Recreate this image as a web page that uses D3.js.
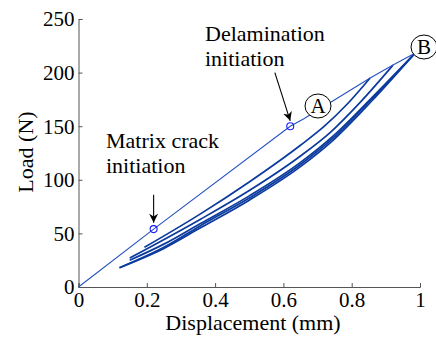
<!DOCTYPE html>
<html>
<head>
<meta charset="utf-8">
<script src="https://cdn.jsdelivr.net/npm/d3@7"></script>
<style>
  body { margin: 0; background: #fff; }
  svg { display: block; font-family: "Liberation Serif", "Times New Roman", serif; }
</style>
</head>
<body>
<div id="chart"></div>
<script>
// values (displacement mm, load N)
const xTicks = [0, 0.2, 0.4, 0.6, 0.8, 1];
const yTicks = [0, 50, 100, 150, 200, 250];

// first loading, thin line
const firstLoad = [[0, 0], [0.22, 54], [0.62, 150], [0.66, 157], [0.854, 195], [0.921, 207], [0.985, 218]];

// unload / reload cycles, thick lines
const cycle1 = [[0.193, 37], [0.356, 68], [0.5, 98], [0.649, 132], [0.72, 150], [0.785, 170], [0.854, 195]];
const cycle2 = [[0.15, 27], [0.356, 63], [0.5, 90], [0.649, 122], [0.74, 145], [0.824, 172], [0.921, 207]];
const cycle3 = [[0.15, 25], [0.25, 40], [0.356, 59], [0.5, 85], [0.649, 116], [0.746, 141], [0.86, 177], [0.985, 218]];
const cycle4 = [[0.12, 18], [0.25, 37], [0.356, 57], [0.5, 83], [0.649, 114], [0.746, 139], [0.86, 176], [0.985, 218]];
const cycle5 = [[0.12, 18], [0.25, 36], [0.356, 55], [0.5, 81], [0.649, 112], [0.746, 137], [0.86, 174], [0.985, 218]];
const cycles = [cycle1, cycle2, cycle3, cycle4, cycle5];

// initiation events
const events = [
  { name: 'crack', x: 0.22, y: 54 },
  { name: 'delam', x: 0.62, y: 150 }
];

const W = 436, H = 338;
const margin = { top: 19, right: 16, bottom: 51, left: 78.5 };

const svg = d3.select('#chart')
  .append('svg')
  .attr('width', W)
  .attr('height', H);

const xScale = d3.scaleLinear().domain([0, 1]).range([margin.left, W - margin.right]);
const yScale = d3.scaleLinear().domain([0, 250]).range([H - margin.bottom, margin.top]);

const axisColor = '#555';

// axes (ticks point inward, no box)
const xAxis = d3.axisBottom(xScale).tickValues(xTicks).tickSize(-4).tickPadding(8)
  .tickFormat(d => d === 0 || d === 1 ? d3.format('d')(d) : d3.format('.1f')(d));
const yAxis = d3.axisLeft(yScale).tickValues(yTicks).tickSize(-4).tickPadding(8);

const gx = svg.append('g')
  .attr('transform', `translate(0, ${yScale(0)})`)
  .call(xAxis);
const gy = svg.append('g')
  .attr('transform', `translate(${xScale(0)}, 0)`)
  .call(yAxis);

[gx, gy].forEach(g => {
  g.select('.domain').attr('stroke', axisColor).attr('stroke-width', 1);
  g.selectAll('.tick line').attr('stroke', axisColor);
  g.selectAll('.tick text')
    .attr('fill', '#000')
    .style('font-family', '"Liberation Serif", serif')
    .style('font-size', '21px');
});
gx.selectAll('.tick text').attr('dy', '0.55em');
gy.selectAll('.tick text').attr('x', -4).attr('dy', '0.33em');

// axis labels
svg.append('text')
  .attr('x', 253)
  .attr('y', 330)
  .attr('text-anchor', 'middle')
  .style('font-size', '22px')
  .text('Displacement (mm)');

svg.append('text')
  .attr('transform', 'translate(33, 152) rotate(-90)')
  .attr('text-anchor', 'middle')
  .style('font-size', '22px')
  .text('Load (N)');

const line = d3.line()
  .x(d => xScale(d[0]))
  .y(d => yScale(d[1]))
  .curve(d3.curveMonotoneX);

// cycles
svg.append('g')
  .selectAll('path')
  .data(cycles)
  .enter()
  .append('path')
  .attr('d', line)
  .attr('fill', 'none')
  .attr('stroke', '#0b3a9e')
  .attr('stroke-width', 1.7);

// first load
svg.append('path')
  .attr('d', d3.line().x(d => xScale(d[0])).y(d => yScale(d[1]))(firstLoad))
  .attr('fill', 'none')
  .attr('stroke', '#2452c0')
  .attr('stroke-width', 1.1);

// event markers
svg.selectAll('.ev')
  .data(events)
  .enter()
  .append('circle')
  .attr('class', 'ev')
  .attr('cx', d => xScale(d.x))
  .attr('cy', d => yScale(d.y))
  .attr('r', 3.5)
  .attr('fill', 'none')
  .attr('stroke', '#1a1aff')
  .attr('stroke-width', 1.1);

// arrows
const defs = svg.append('defs');
defs.append('marker')
  .attr('id', 'head')
  .attr('viewBox', '0 0 10 10')
  .attr('refX', 10)
  .attr('refY', 5)
  .attr('markerWidth', 9)
  .attr('markerHeight', 9)
  .attr('markerUnits', 'userSpaceOnUse')
  .attr('orient', 'auto')
  .append('path')
  .attr('d', 'M0,0 L10,5 L0,10 L3,5 Z')
  .attr('fill', '#000');

const arrows = [
  { x1: 0.22, y1: 86, x2: 0.22, y2: 60 },
  { x1: 0.575, y1: 200, x2: 0.62, y2: 155 }
];
svg.selectAll('.arrow')
  .data(arrows)
  .enter()
  .append('line')
  .attr('class', 'arrow')
  .attr('x1', d => xScale(d.x1))
  .attr('y1', d => yScale(d.y1))
  .attr('x2', d => xScale(d.x2))
  .attr('y2', d => yScale(d.y2))
  .attr('stroke', '#000')
  .attr('stroke-width', 1.1)
  .attr('marker-end', 'url(#head)');

// annotation texts
const notes = [
  { x: 106, y: 148, t: 'Matrix crack' },
  { x: 106, y: 173, t: 'initiation' },
  { x: 205, y: 41, t: 'Delamination' },
  { x: 205, y: 66, t: 'initiation' }
];
svg.selectAll('.note')
  .data(notes)
  .enter()
  .append('text')
  .attr('class', 'note')
  .attr('x', d => d.x)
  .attr('y', d => d.y)
  .style('font-size', '22px')
  .text(d => d.t);

// circled labels
const tags = [
  { x: 318, y: 106, t: 'A' },
  { x: 424, y: 47, t: 'B' }
];
const tg = svg.selectAll('.tag')
  .data(tags)
  .enter()
  .append('g')
  .attr('class', 'tag');
tg.append('ellipse')
  .attr('cx', d => d.x)
  .attr('cy', d => d.y)
  .attr('rx', 13)
  .attr('ry', 12)
  .attr('fill', '#fff')
  .attr('stroke', '#000')
  .attr('stroke-width', 1);
tg.append('text')
  .attr('x', d => d.x)
  .attr('y', d => d.y)
  .attr('dy', '0.35em')
  .attr('text-anchor', 'middle')
  .style('font-size', '21px')
  .text(d => d.t);
</script>
</body>
</html>
